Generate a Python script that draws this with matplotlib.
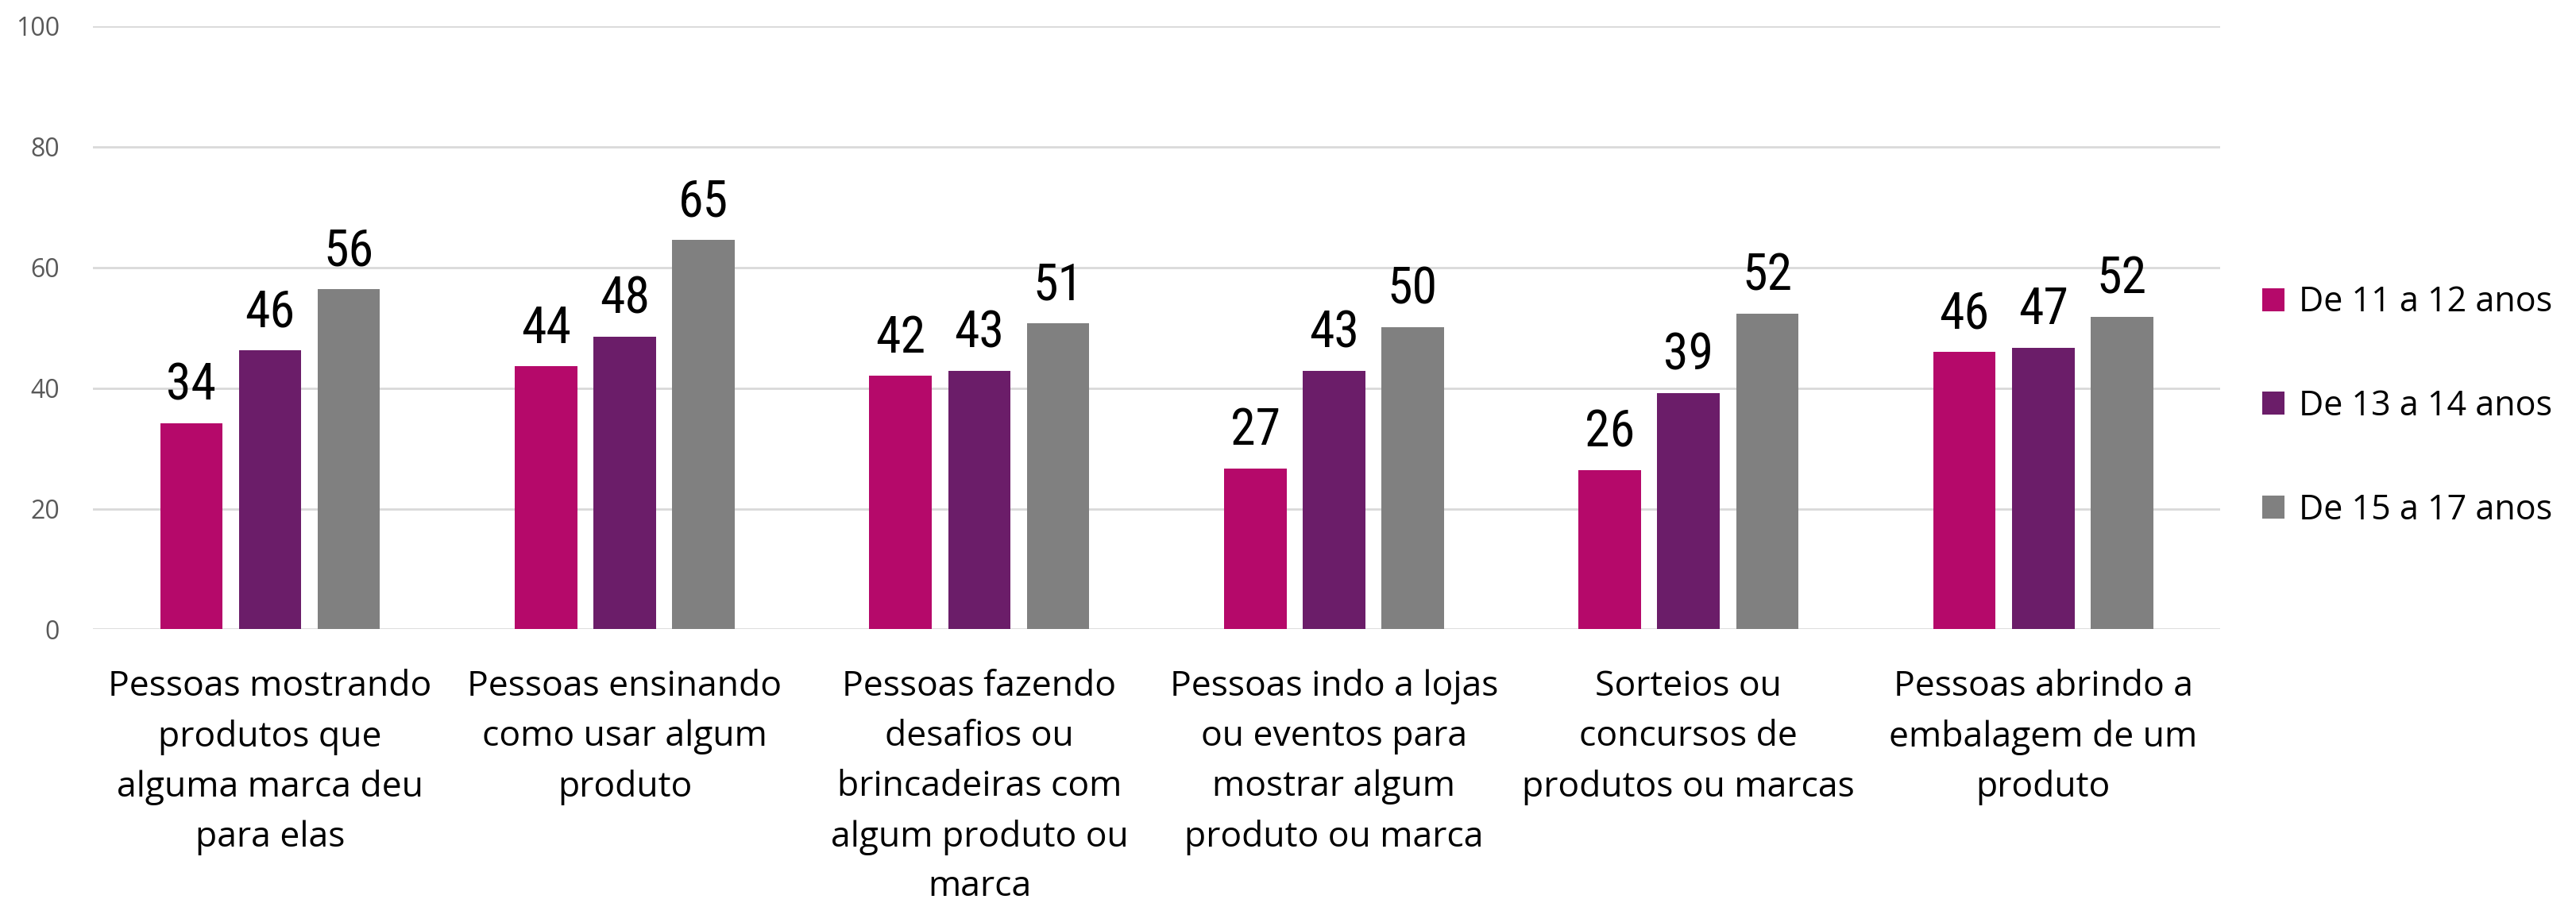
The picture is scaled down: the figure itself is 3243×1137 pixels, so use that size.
import numpy as np
from matplotlib import pyplot as plt
from matplotlib import font_manager

plt.rcParams['font.family'] = ['Open Sans', 'DejaVu Sans']

# narrower face for the value labels, if one is around
installed = set(f.name for f in font_manager.fontManager.ttflist)
label_font = 'Open Sans'
for cand in ['Roboto Condensed', 'Liberation Sans Narrow', 'Open Sans Condensed']:
    if cand in installed:
        label_font = cand
        break

categories = [
    "Pessoas mostrando\nprodutos que\nalguma marca deu\npara elas",
    "Pessoas ensinando\ncomo usar algum\nproduto",
    "Pessoas fazendo\ndesafios ou\nbrincadeiras com\nalgum produto ou\nmarca",
    "Pessoas indo a lojas\nou eventos para\nmostrar algum\nproduto ou marca",
    "Sorteios ou\nconcursos de\nprodutos ou marcas",
    "Pessoas abrindo a\nembalagem de um\nproduto",
]
names = ["De 11 a 12 anos", "De 13 a 14 anos", "De 15 a 17 anos"]
age_11_12 = [34.1, 43.6, 42.0, 26.7, 26.4, 46.0]
age_13_14 = [46.3, 48.5, 42.8, 42.8, 39.2, 46.7]
age_15_17 = [56.4, 64.6, 50.7, 50.1, 52.3, 51.8]
colors = ["#B5096A", "#6B1D69", "#808080"]

series = [age_11_12, age_13_14, age_15_17]

fig = plt.figure(figsize=(32.43, 11.37), dpi=100)
ax = fig.add_axes([0.036, 0.303, 0.826, 0.668])

x = np.arange(len(categories))
w = 0.176
step = 0.222
for i, vals in enumerate(series):
    bars = ax.bar(x + (i - 1) * step, vals, width=w, color=colors[i], label=names[i], zorder=3)
    ax.bar_label(bars, labels=["%.0f" % v for v in vals], padding=12, fontsize=46,
                 color='black', family=[label_font, 'DejaVu Sans'])

ax.set_xlim(-0.5, len(categories) - 0.5)
ax.set_ylim(0, 100)
ax.set_yticks(range(0, 101, 20))
ax.yaxis.grid(True, color='#d9d9d9', linewidth=2, zorder=0)
ax.set_axisbelow(True)
for s in ax.spines.values():
    s.set_visible(False)
ax.tick_params(axis='y', length=0, pad=30, labelsize=23, labelcolor='#595959')
ax.tick_params(axis='x', length=0, pad=36)
ax.set_xticks(x)
ax.set_xticklabels(categories, fontsize=32, color='black', linespacing=1.55, va='top')

leg = ax.legend(loc='center left', bbox_to_anchor=(0.873, 0.55), bbox_transform=fig.transFigure,
                frameon=False, fontsize=31, labelspacing=2.0, handlelength=0.65, handleheight=0.65,
                handletextpad=0.4, borderaxespad=0)

fig.savefig("out.png", dpi=100)
